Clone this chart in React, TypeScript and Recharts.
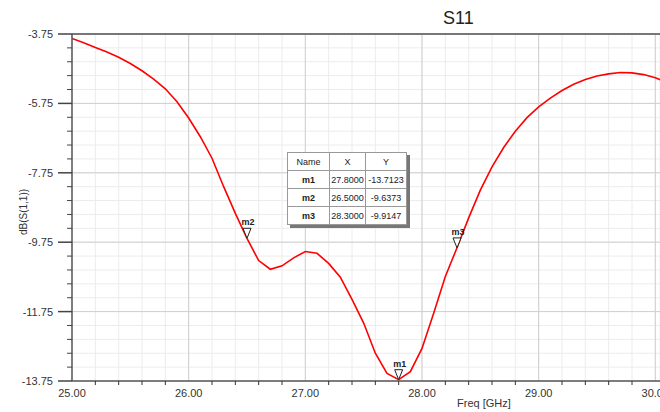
import React from "react";
import { LineChart, Line, XAxis, YAxis, CartesianGrid, ReferenceLine, ReferenceDot } from "recharts";

// S11 sweep
const freqGHz = [
  25.0, 25.1, 25.2, 25.3, 25.4, 25.5, 25.6, 25.7, 25.8, 25.9,
  26.0, 26.1, 26.2, 26.3, 26.4, 26.5, 26.6, 26.7, 26.8, 26.9,
  27.0, 27.1, 27.2, 27.3, 27.4, 27.5, 27.6, 27.7, 27.8, 27.9,
  28.0, 28.1, 28.2, 28.3, 28.4, 28.5, 28.6, 28.7, 28.8, 28.9,
  29.0, 29.1, 29.2, 29.3, 29.4, 29.5, 29.6, 29.7, 29.8, 29.9,
  30.0, 30.1,
];
const s11dB = [
  -3.88, -4.0, -4.14, -4.27, -4.42, -4.6, -4.81, -5.05, -5.33, -5.7,
  -6.17, -6.71, -7.33, -8.15, -8.92, -9.64, -10.28, -10.53, -10.43, -10.2,
  -10.02, -10.07, -10.36, -10.76, -11.4, -12.08, -12.95, -13.53, -13.71, -13.48,
  -12.81, -11.8, -10.74, -9.91, -9.05, -8.25, -7.58, -7.02, -6.55, -6.16,
  -5.85, -5.6, -5.38, -5.2, -5.06, -4.96, -4.9, -4.86, -4.87, -4.92,
  -5.01, -5.14,
];

const markerNames = ["m1", "m2", "m3"];
const markerFreq = [27.8, 26.5, 28.3];
const markerDb = [-13.7123, -9.6373, -9.9147];

const xMajor = [25, 26, 27, 28, 29, 30];
const xTicks = [
  25, 25.2, 25.4, 25.6, 25.8, 26, 26.2, 26.4, 26.6, 26.8, 27, 27.2, 27.4, 27.6, 27.8,
  28, 28.2, 28.4, 28.6, 28.8, 29, 29.2, 29.4, 29.6, 29.8, 30,
];
const yMajor = [-3.75, -5.75, -7.75, -9.75, -11.75, -13.75];
const yTicks = [
  -3.75, -4.15, -4.55, -4.95, -5.35, -5.75, -6.15, -6.55, -6.95, -7.35, -7.75, -8.15, -8.55,
  -8.95, -9.35, -9.75, -10.15, -10.55, -10.95, -11.35, -11.75, -12.15, -12.55, -12.95, -13.35, -13.75,
];

const data = freqGHz.map((f, i) => ({ f, db: s11dB[i] }));
const isMajor = (list: number[], v: number) => list.some((m) => Math.abs(m - v) < 1e-6);

const FONT = "'Liberation Sans', Arial, sans-serif";

function XTick(props: any) {
  const { x, y, payload } = props;
  const major = isMajor(xMajor, payload.value);
  return (
    <g>
      {!major && <line x1={x} x2={x} y1={y} y2={y + 4} stroke="#333" strokeWidth={1} />}
      {major && (
        <text x={x} y={y + 16} textAnchor="middle" fontSize={11} fill="#333" fontFamily={FONT}>
          {payload.value.toFixed(2)}
        </text>
      )}
    </g>
  );
}

function YTick(props: any) {
  const { x, y, payload } = props;
  const major = isMajor(yMajor, payload.value);
  return (
    <g>
      <line x1={major ? x - 14 : x - 5} x2={x} y1={y} y2={y} stroke="#444" strokeWidth={major ? 1.5 : 1} />
      {major && (
        <text x={x - 19} y={y + 4} textAnchor="end" fontSize={11} fill="#333" fontFamily={FONT}>
          {payload.value.toFixed(2)}
        </text>
      )}
    </g>
  );
}

function Marker(name: string) {
  return (props: any) => {
    const { cx, cy } = props;
    return (
      <g>
        <polygon points={`${cx - 4},${cy - 10} ${cx + 4},${cy - 10} ${cx},${cy}`} fill="#fff" stroke="#222" strokeWidth={1} />
        <text x={cx + 1} y={cy - 13} textAnchor="middle" fontSize={9} fontWeight="bold" fill="#222" fontFamily={FONT}>
          {name}
        </text>
      </g>
    );
  };
}

const cell: React.CSSProperties = {
  border: "1px solid #999",
  padding: 0,
  height: 17,
  textAlign: "center",
  fontSize: 9,
  fontFamily: FONT,
  color: "#222",
};

export default function App() {
  return (
    <div style={{ position: "absolute", left: 0, top: 0, width: 660, height: 412, background: "#fff", overflow: "hidden" }}>
      <LineChart width={660} height={412} data={data} margin={{ top: 34, right: 0, bottom: 0, left: 0 }}>
        <CartesianGrid stroke="#ececec" strokeWidth={1} />
        {xMajor.slice(1).map((v) => (
          <ReferenceLine key={"vx" + v} x={v} stroke="#cfcfcf" strokeWidth={1} />
        ))}
        {yMajor.slice(1, -1).map((v) => (
          <ReferenceLine key={"hy" + v} y={v} stroke="#cfcfcf" strokeWidth={1} />
        ))}
        <XAxis
          dataKey="f"
          type="number"
          domain={[25, 30.04]}
          allowDataOverflow
          ticks={xTicks}
          interval={0}
          height={31}
          tickSize={0}
          tickMargin={0}
          tick={<XTick />}
          axisLine={{ stroke: "#555", strokeWidth: 1.5 }}
        />
        <YAxis
          type="number"
          domain={[-13.75, -3.75]}
          allowDataOverflow
          ticks={yTicks}
          interval={0}
          width={72}
          tickSize={0}
          tickMargin={0}
          tick={<YTick />}
          axisLine={{ stroke: "#555", strokeWidth: 1.5 }}
        />
        <ReferenceLine y={-3.75} stroke="#777" strokeWidth={2} />
        <Line
          dataKey="db"
          type="linear"
          stroke="#ff0000"
          strokeWidth={1.6}
          dot={false}
          isAnimationActive={false}
        />
        {markerNames.map((n, i) => (
          <ReferenceDot key={n} x={markerFreq[i]} y={markerDb[i]} r={4} ifOverflow="visible" shape={Marker(n)} />
        ))}
      </LineChart>

      <div style={{ position: "absolute", left: 443, top: 8, fontSize: 18, fontFamily: FONT, color: "#222" }}>S11</div>
      <div
        style={{
          position: "absolute",
          left: 23,
          top: 212,
          transform: "translate(-50%, -50%) rotate(-90deg)",
          fontSize: 10,
          fontFamily: FONT,
          color: "#333",
          whiteSpace: "nowrap",
        }}
      >
        dB(S(1,1))
      </div>
      <div style={{ position: "absolute", left: 457, top: 397, fontSize: 11, fontFamily: FONT, color: "#333" }}>Freq [GHz]</div>

      <table
        style={{
          position: "absolute",
          left: 287,
          top: 152,
          borderCollapse: "collapse",
          background: "#fff",
          border: "1px solid #333",
          boxShadow: "3px 3px 0 #777",
        }}
      >
        <tbody>
          <tr>
            <td style={{ ...cell, width: 41 }}>Name</td>
            <td style={{ ...cell, width: 35 }}>X</td>
            <td style={{ ...cell, width: 40 }}>Y</td>
          </tr>
          {markerNames.map((n, i) => (
            <tr key={n}>
              <td style={{ ...cell, fontWeight: "bold" }}>{n}</td>
              <td style={cell}>{markerFreq[i].toFixed(4)}</td>
              <td style={cell}>{markerDb[i].toFixed(4)}</td>
            </tr>
          ))}
        </tbody>
      </table>
    </div>
  );
}
